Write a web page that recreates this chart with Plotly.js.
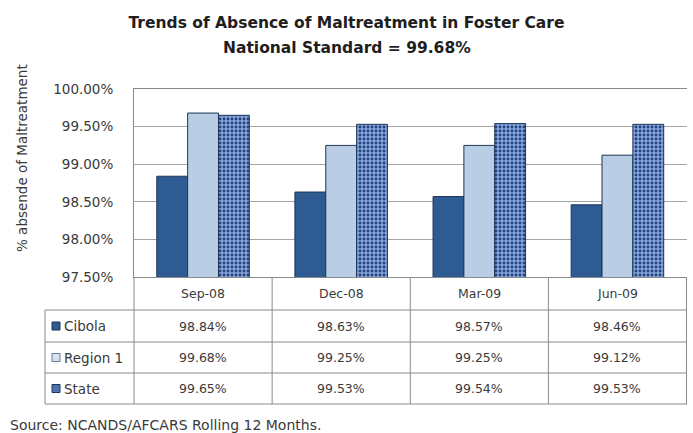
<!DOCTYPE html>
<html>
<head>
<meta charset="utf-8">
<script src="https://cdn.plot.ly/plotly-3.0.1.min.js"></script>
<style>html,body{margin:0;padding:0;background:#fff;}#chart{width:693px;height:433px;}</style>
</head>
<body>
<div id="chart"></div>
<script>
// ---- data ----
const categories = ["Sep-08", "Dec-08", "Mar-09", "Jun-09"];
const seriesNames = ["Cibola", "Region 1", "State"];
const cibola = [98.84, 98.63, 98.57, 98.46];
const region1 = [99.68, 99.25, 99.25, 99.12];
const state = [99.65, 99.53, 99.54, 99.53];
const yTickVals = [97.5, 98.0, 98.5, 99.0, 99.5, 100.0];
const yTickText = ["97.50%", "98.00%", "98.50%", "99.00%", "99.50%", "100.00%"];
const titleLine1 = "Trends of Absence of Maltreatment in Foster Care";
const titleLine2 = "National Standard = 99.68%";
const yTitle = "% absende of Maltreatment";
const sourceText = "Source: NCANDS/AFCARS Rolling 12 Months.";

// ---- layout geometry (pixels) ----
const W = 693, H = 433;
const L = 134, R = 6, T = 89, B = 156;
const plotW = W - L - R, plotH = H - T - B;
const px = x => (x - L) / plotW;           // pixel x -> paper x
const py = y => (H - B - y) / plotH;       // pixel y -> paper y

const font = "'DejaVu Sans', sans-serif";
const textColor = "#3a3a3a";
const lineColor = "#8a8a8a";
const colors = ["#2f5b93", "#b9cde5", "#7c9bd6"];
const outline = "#1d3557";

const allSeries = [cibola, region1, state];

const traces = allSeries.map((vals, i) => {
  const t = {
    type: "bar",
    name: seriesNames[i],
    x: categories,
    y: vals,
    marker: { color: colors[i], line: { color: outline, width: 1 } },
    hoverinfo: "x+y+name"
  };
  if (i === 2) {
    t.marker.pattern = { shape: ".", bgcolor: "#86a5dc", fgcolor: "#23427c", size: 4, solidity: 0.4 };
  }
  return t;
});

// ---- table (below plot) ----
const rowBottoms = [342, 373, 404];
const headerBottom = 310;
const rowCenters = [326, 357.5, 388.5];
const shapes = [];
[headerBottom].concat(rowBottoms).forEach(y => {
  shapes.push({ type: "line", xref: "paper", yref: "paper", x0: px(45), x1: 1, y0: py(y), y1: py(y),
                line: { color: lineColor, width: 1 } });
});
shapes.push({ type: "line", xref: "paper", yref: "paper", x0: px(45), x1: px(45), y0: py(headerBottom), y1: py(404),
              line: { color: lineColor, width: 1 } });
shapes.push({ type: "line", xref: "paper", yref: "paper", x0: 0, x1: 0, y0: 0, y1: py(404),
              line: { color: lineColor, width: 1 } });
for (let k = 0; k < categories.length; k++) {
  shapes.push({ type: "line", xref: "x", yref: "paper", x0: k + 0.5, x1: k + 0.5, y0: 0, y1: py(404),
                line: { color: lineColor, width: 1 } });
}
const keyFill = ["#2f5b93", "#d6e0ee", "#4f72b0"];
seriesNames.forEach((n, i) => {
  shapes.push({ type: "rect", xref: "paper", yref: "paper",
                x0: px(52), x1: px(60), y0: py(rowCenters[i] + 4), y1: py(rowCenters[i] - 4),
                fillcolor: keyFill[i], line: { color: i === 1 ? "#6a7a90" : outline, width: 1 } });
});

const annotations = [];
categories.forEach(c => {
  annotations.push({ xref: "x", yref: "paper", x: c, y: py(293.5), yanchor: "middle", text: c, showarrow: false,
                     font: { family: font, size: 12.5, color: textColor } });
});
seriesNames.forEach((n, i) => {
  annotations.push({ xref: "paper", yref: "paper", x: px(62), y: py(rowCenters[i]), xanchor: "left", yanchor: "middle",
                     text: n, showarrow: false, font: { family: font, size: 13.5, color: textColor } });
  allSeries[i].forEach((v, j) => {
    annotations.push({ xref: "x", yref: "paper", x: categories[j], y: py(rowCenters[i]), yanchor: "middle",
                       text: v.toFixed(2) + "%", showarrow: false,
                       font: { family: font, size: 12.5, color: textColor } });
  });
});
annotations.push({ xref: "paper", yref: "paper", x: px(W / 2), y: py(48), xanchor: "center", yanchor: "middle",
                   text: "<b>" + titleLine2 + "</b>", showarrow: false,
                   font: { family: font, size: 15.5, color: "#1e1e1e" } });
annotations.push({ xref: "paper", yref: "paper", x: px(22), y: py(158), xanchor: "center", yanchor: "middle",
                   text: yTitle, textangle: -90,
                   showarrow: false, font: { family: font, size: 13.5, color: textColor } });
annotations.push({ xref: "paper", yref: "paper", x: px(8), y: py(425), xanchor: "left", yanchor: "middle",
                   text: sourceText, showarrow: false, font: { family: font, size: 14, color: textColor } });

const layout = {
  width: W, height: H,
  margin: { l: L, r: R, t: T, b: B, pad: 0 },
  paper_bgcolor: "#fff", plot_bgcolor: "#fff",
  title: { text: "<b>" + titleLine1 + "</b>", font: { family: font, size: 15.5, color: "#1e1e1e" },
           xref: "container", x: 0.5, yref: "container", y: 1 - 23 / H, yanchor: "middle" },
  showlegend: false,
  barmode: "group",
  bargap: 0.33,
  bargroupgap: 0,
  xaxis: { type: "category", showticklabels: false, ticks: "", showgrid: false,
           showline: true, mirror: true, linecolor: lineColor, linewidth: 1, fixedrange: true },
  yaxis: { range: [97.5, 100], tickvals: yTickVals, ticktext: yTickText,
           showgrid: true, gridcolor: "#a6a6a6", gridwidth: 1, zeroline: false,
           showline: true, linecolor: lineColor, linewidth: 1, ticks: "", ticklabelstandoff: 17,
           tickfont: { family: font, size: 13.5, color: textColor }, fixedrange: true },
  shapes: shapes,
  annotations: annotations,
  font: { family: font }
};

Plotly.newPlot("chart", traces, layout, { displayModeBar: false, staticPlot: true });
</script>
</body>
</html>
